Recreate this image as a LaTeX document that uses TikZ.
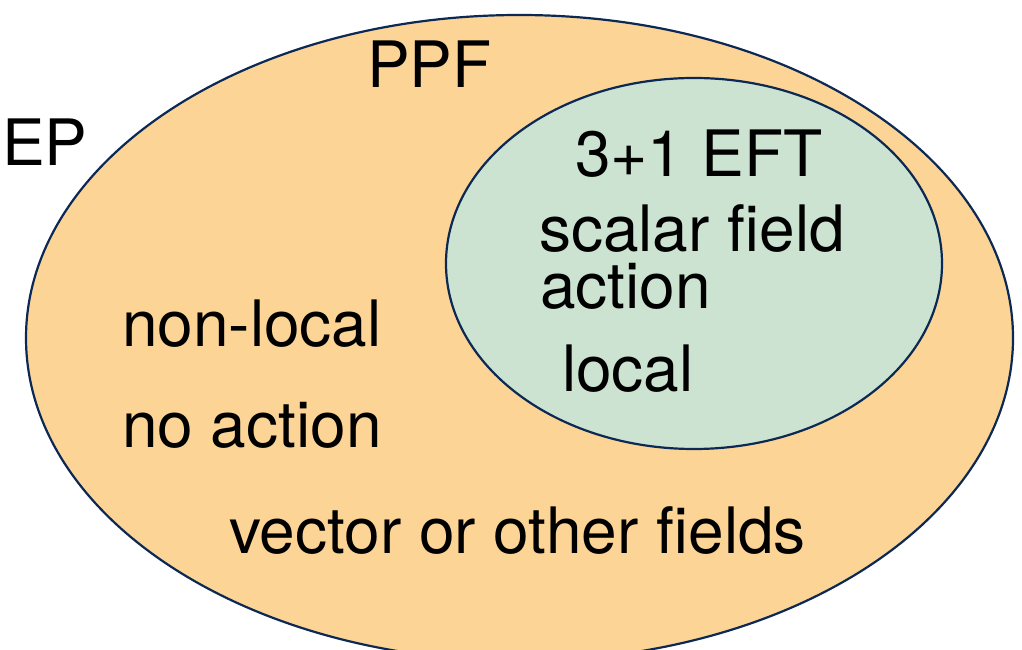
\documentclass[tikz,border=0pt]{standalone}
\usepackage{fontspec}
\setmainfont{TeX Gyre Heros}
\definecolor{ppfcol}{RGB}{251,212,150}
\definecolor{eftcol}{RGB}{203,227,208}
\definecolor{edgecol}{RGB}{12,40,84}
\tikzset{
  setshape/.style={draw=edgecol, line width=2.2pt},
  lbl/.style={anchor=base west, inner sep=0pt, outer sep=0pt, font=\fontsize{64}{76}\selectfont, text=black}
}
\begin{document}
\begin{tikzpicture}[x=1pt,y=1pt]
\useasboundingbox (0,0) rectangle (1022,650);
\begin{scope}
\clip (0,0) rectangle (1022,650);
\filldraw[setshape, fill=ppfcol] (519.5,312) ellipse [x radius=493.5, y radius=323];
\filldraw[setshape, fill=eftcol] (694,386.5) ellipse [x radius=248, y radius=185.5];
\end{scope}
\node[lbl] (ppf) at (367,562) {PPF};
\node[lbl] (ep) at (2,484) {EP};
\node[lbl] (eft) at (575,473) {3+1 EFT};
\node[lbl] (scalar) at (539,398) {scalar field};
\node[lbl] (action) at (540,341) {action};
\node[lbl] (local) at (562,258) {local};
\node[lbl] (nonlocal) at (122,303) {non-local};
\node[lbl] (noaction) at (122,202) {no action};
\node[lbl] (vector) at (229,96) {vector or other fields};
\end{tikzpicture}
\end{document}
